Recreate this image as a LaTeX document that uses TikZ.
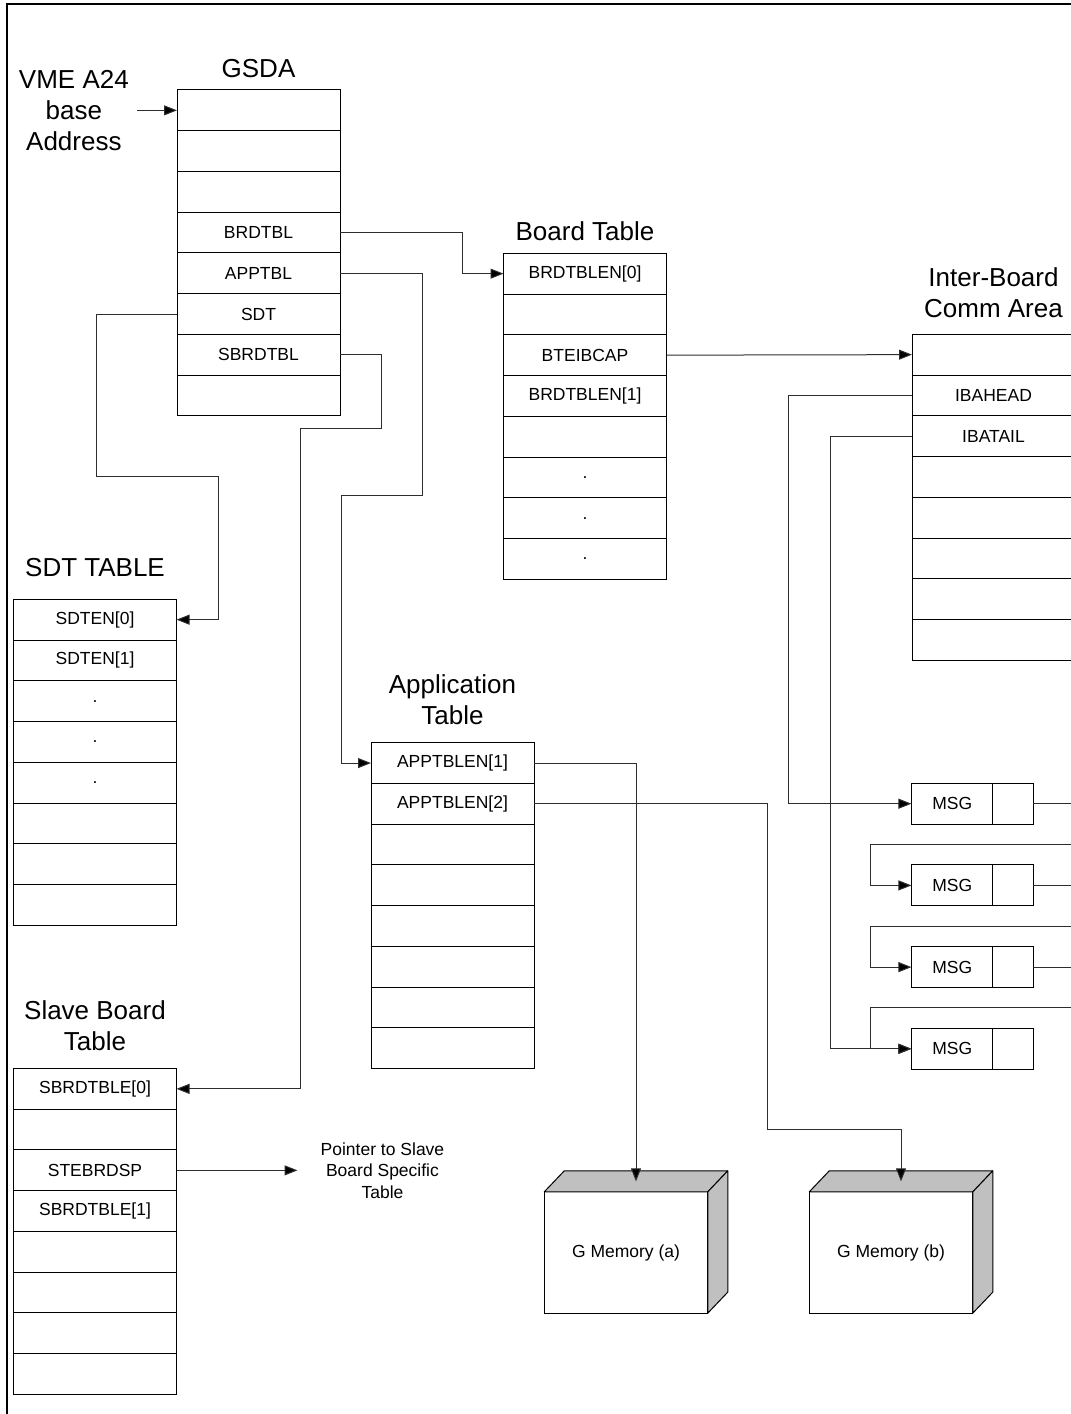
\documentclass[tikz,border=0pt]{standalone}
\usepackage{fontspec}
\setmainfont{Liberation Sans}
\usetikzlibrary{arrows.meta, positioning}
\definecolor{lineblk}{HTML}{2E2E2E}
\definecolor{shadegray}{HTML}{C0C0C0}
\tikzset{
	cell/.style={draw=black, line width=1pt, minimum width=163pt, minimum height=40.75pt,
		inner sep=0pt, outer sep=0pt, font=\fontsize{17.5}{21}\selectfont},
	msgbox/.style={cell, minimum width=81.5pt, minimum height=41pt},
	title/.style={align=center, inner sep=2pt, font=\fontsize{26}{31}\selectfont},
	note/.style={align=center, inner sep=2pt, font=\fontsize{17.5}{21.5}\selectfont},
	link/.style={-{Triangle[length=13pt, width=10pt, fill=black]}, line width=1pt, draw=lineblk},
	memface/.style={draw=black, fill=white, line width=1pt, minimum width=163.5pt,
		minimum height=121.3pt, inner sep=0pt, outer sep=0pt, font=\fontsize{17.5}{21}\selectfont},
	memside/.style={draw=black, fill=shadegray, line width=1pt, line join=round}
}

\begin{document}
\begin{tikzpicture}[x=1pt, y=-1pt]
	\useasboundingbox (0,0) rectangle (1071,1414);
	\clip (0,0) rectangle (1071,1414);
	\draw[line width=2.5pt] (7,1440) -- (7,4) -- (1100,4);

	% tables
	\foreach \lab [count=\i] in {{},{},{},BRDTBL,APPTBL,SDT,SBRDTBL,{}}
		\node[cell] (gsda-\i) at (258.5, 69.6+40.75*\i) {\lab};
	\foreach \lab [count=\i] in {BRDTBLEN[0],{},BTEIBCAP,BRDTBLEN[1],{},.,.,.}
		\node[cell] (brd-\i) at (585, 232.9+40.75*\i) {\lab};
	\foreach \lab [count=\i] in {{},IBAHEAD,IBATAIL,{},{},{},{},{}}
		\node[cell] (ibc-\i) at (993.5, 313.9+40.75*\i) {\lab};
	\foreach \lab [count=\i] in {SDTEN[0],SDTEN[1],.,.,.,{},{},{}}
		\node[cell] (sdt-\i) at (95, 578.9+40.75*\i) {\lab};
	\foreach \lab [count=\i] in {APPTBLEN[1],APPTBLEN[2],{},{},{},{},{},{}}
		\node[cell] (app-\i) at (452.5, 722.3+40.75*\i) {\lab};
	\foreach \lab [count=\i] in {SBRDTBLE[0],{},STEBRDSP,SBRDTBLE[1],{},{},{},{}}
		\node[cell] (slv-\i) at (95, 1048.1+40.75*\i) {\lab};

	% titles
	\node[title, above=10pt of gsda-1] (gsdat) {GSDA};
	\node[title, left=46pt of gsda-1] (vme) {VME A24\\base\\Address};
	\node[title, above=10pt of brd-1] (brdt) {Board Table};
	\node[title, above=14pt of ibc-1] (ibct) {Inter-Board\\Comm Area};
	\node[title, above=20pt of sdt-1] (sdtt) {SDT TABLE};
	\node[title, above=16pt of app-1] (appt) {Application\\Table};
	\node[title, above=16pt of slv-1] (slvt) {Slave Board\\Table};
	\node[note, right=142pt of slv-3] (ptr) {Pointer to Slave\\Board Specific\\Table};
	\path ([xshift=-21pt]ptr.west) coordinate (ptrtip);

	% message queue
	\foreach \i in {1,...,4} {
		\node[msgbox] (msg\i) at (952.2, 722+81.7*\i) {MSG};
		\node[cell, minimum width=40.5pt, minimum height=41pt, right=0pt of msg\i] (nxt\i) {};
	}

	% global memory
	\node[memface] (gmema) at (626, 1252.5) {G Memory (a)};
	\node[memface] (gmemb) at (891, 1252.5) {G Memory (b)};
	\foreach \m in {gmema, gmemb} {
		\draw[memside] (\m.north west) -- ++(20,-21) -- ++(163.5,0) -- (\m.north east) -- cycle;
		\draw[memside] (\m.north east) -- ++(20,-21) -- ++(0,121.3) -- (\m.south east) -- cycle;
		\coordinate (\m-top) at ([shift={(10,-10.5)}]\m.north);
	}

	% pointers
	\draw[link] ([xshift=6pt]vme.east) -- (gsda-1.west);
	\draw[link] (gsda-4.east) -- ++(122.5,0) |- (brd-1.west);
	\draw[link] (gsda-5.east) -- ++(82,0) |- (341.5,495) |- (app-1.west);
	\draw[link] (gsda-6.west) -- ++(-81,0) |- (218.5,476) |- (sdt-1.east);
	\draw[link] (gsda-7.east) -- ++(41.5,0) |- (300,428) |- (slv-1.east);
	\draw[link] (brd-3.east) -- (ibc-1.west);
	\draw[link] (ibc-2.west) -- ++(-123.5,0) |- (msg1.west);
	\draw[link] (ibc-3.west) -- ++(-82,0) |- (msg4.west);
	\foreach \i/\j in {1/2, 2/3, 3/4}
		\draw[link] (nxt\i.east) -- ++(60,0) -- ++(0,40.8) -| ([xshift=-41pt]msg\j.west) -- (msg\j.west);
	\draw[link] (app-1.east) -| (gmema-top);
	\draw[link] (app-2.east) -| (767.5,1129.5) -| (gmemb-top);
	\draw[link] (slv-3.east) -- (ptrtip);
\end{tikzpicture}
\end{document}
